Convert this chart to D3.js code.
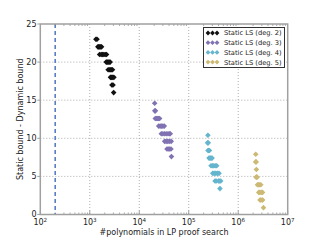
<!DOCTYPE html>
<html><head><meta charset="utf-8">
<script src="https://cdn.jsdelivr.net/npm/d3@7"></script>
<style>body{margin:0;background:#fff}svg{display:block}text{font-family:"DejaVu Sans",sans-serif}</style>
</head><body><svg id="c" width="320" height="240"></svg>
<script>
// ---- data ----
const seriesNames = ["Static LS (deg. 2)", "Static LS (deg. 3)", "Static LS (deg. 4)", "Static LS (deg. 5)"];
const seriesColors = ["#111111", "#8172B2", "#64B5CD", "#CCB974"];
const deg2Y = [23, 22, 21, 20, 19, 18, 17, 16];
const deg2X = [[1330, 1400], [1460, 1510, 1580, 1650, 1730], [1580, 1700, 1800, 1920, 2050, 2180], [2150, 2250, 2350, 2460, 2580],
  [2350, 2480, 2620, 2750, 2880], [2620, 2750, 2900, 3070], [2800, 2950], [3040]];
const deg3Y = [14.6, 13.6, 12.6, 11.6, 10.6, 9.6, 8.6, 7.6];
const deg3X = [[20500], [20600, 21200], [21100, 22200, 23400, 24600, 25800], [24700, 26400, 28200, 30000, 32000],
  [27900, 30000, 32400, 35000, 38000, 40500, 42300], [32600, 35000, 37600, 40500, 44200], [36300, 38500, 41000, 43700], [44700]];
const deg4Y = [10.4, 9.4, 8.4, 7.4, 6.4, 5.4, 4.4, 3.4];
const deg4X = [[244000], [240000, 248000], [245000, 254000, 262000], [257000, 270000, 283000, 296000],
  [282000, 300000, 320000, 343000, 367000], [306000, 328000, 352000, 380000, 409000], [340000, 358000, 400000, 420000, 443000], [427000]];
const deg5Y = [7.9, 6.9, 5.9, 4.9, 3.9, 2.9, 1.9, 0.9];
const deg5X = [[2260000], [2260000, 2300000], [2330000], [2300000, 2350000, 2400000],
  [2450000, 2580000, 2720000, 2860000], [2600000, 2750000, 2920000, 3100000], [2750000, 2850000, 3050000, 3100000], [3240000]];
const refLineX = 200;
const xTickExps = [2, 3, 4, 5, 6, 7];
const yTicks = [0, 5, 10, 15, 20, 25];
const xLabel = "#polynomials in LP proof search";
const yLabel = "Static bound - Dynamic bound";

// ---- chart ----
const svg = d3.select("#c");
const L = 40.3, R = 287.7, T = 24, B = 214.5;
const x = d3.scaleLog().domain([1e2, 1e7]).range([L, R]);
const y = d3.scaleLinear().domain([0, 25]).range([B, T]);

// grid
const g = svg.append("g");
g.selectAll(".gx").data(xTickExps.slice(1, -1)).join("line")
  .attr("x1", d => x(Math.pow(10, d))).attr("x2", d => x(Math.pow(10, d)))
  .attr("y1", T).attr("y2", B).attr("stroke", "#999").attr("stroke-width", 0.8).attr("stroke-dasharray", "1,2");
g.selectAll(".gy").data(yTicks.slice(1, -1)).join("line")
  .attr("x1", L).attr("x2", R).attr("y1", d => y(d)).attr("y2", d => y(d))
  .attr("stroke", "#999").attr("stroke-width", 0.8).attr("stroke-dasharray", "1,2");

// minor ticks on x
const minors = [];
for (let e = 2; e < 7; e++) for (let k = 2; k < 10; k++) minors.push(k * Math.pow(10, e));
g.selectAll(".mt").data(minors).join("line")
  .attr("x1", d => x(d)).attr("x2", d => x(d)).attr("y1", B).attr("y2", B - 2)
  .attr("stroke", "#888").attr("stroke-width", 0.7);
g.selectAll(".mtt").data(minors).join("line")
  .attr("x1", d => x(d)).attr("x2", d => x(d)).attr("y1", T).attr("y2", T + 2)
  .attr("stroke", "#888").attr("stroke-width", 0.7);
// major ticks
g.selectAll(".Mt").data(xTickExps).join("line")
  .attr("x1", d => x(Math.pow(10, d))).attr("x2", d => x(Math.pow(10, d))).attr("y1", B).attr("y2", B - 4)
  .attr("stroke", "#888").attr("stroke-width", 0.8);
g.selectAll(".Myt").data(yTicks).join("line")
  .attr("x1", L).attr("x2", L - 3).attr("y1", d => y(d)).attr("y2", d => y(d))
  .attr("stroke", "#888").attr("stroke-width", 0.8);

// reference dashed line
svg.append("line").attr("x1", x(refLineX)).attr("x2", x(refLineX)).attr("y1", T).attr("y2", B)
  .attr("stroke", "#5a7fc0").attr("stroke-width", 1.6).attr("stroke-dasharray", "4,3");

// points
const diamond = (cx, cy, r) => `M${cx},${cy - r}L${cx + r},${cy}L${cx},${cy + r}L${cx - r},${cy}Z`;
const allY = [deg2Y, deg3Y, deg4Y, deg5Y];
const allX = [deg2X, deg3X, deg4X, deg5X];
allY.forEach((ys, si) => {
  const pts = [];
  ys.forEach((yv, i) => allX[si][i].forEach(xv => pts.push([xv, yv])));
  svg.append("g").selectAll("path").data(pts).join("path")
    .attr("d", d => diamond(x(d[0]), y(d[1]), 2.8))
    .attr("fill", seriesColors[si]);
});

// frame
svg.append("rect").attr("x", L).attr("y", T).attr("width", R - L).attr("height", B - T)
  .attr("fill", "none").attr("stroke", "#a0a0a0").attr("stroke-width", 1.5);

// tick labels
const xl = svg.append("g").selectAll("text").data(xTickExps).join("text")
  .attr("x", d => x(Math.pow(10, d))).attr("y", 225).attr("text-anchor", "middle")
  .attr("font-size", 8).attr("fill", "#222");
xl.append("tspan").text("10");
xl.append("tspan").attr("dy", -3.5).attr("font-size", 5.6).text(d => d);
svg.append("g").selectAll("text").data(yTicks).join("text")
  .attr("x", 36.5).attr("y", d => y(d) + 2.9).attr("text-anchor", "end")
  .attr("font-size", 8).attr("fill", "#222").text(d => d);

// axis labels
svg.append("text").attr("x", (L + R) / 2).attr("y", 234.5).attr("text-anchor", "middle")
  .attr("font-size", 8).attr("fill", "#222").text(xLabel);
svg.append("text").attr("transform", `translate(22.5,${(T + B) / 2}) rotate(-90)`)
  .attr("text-anchor", "middle").attr("font-size", 8).attr("fill", "#222").text(yLabel);

// legend
const lg = svg.append("g");
lg.append("rect").attr("x", 203.5).attr("y", 27.5).attr("width", 81).attr("height", 40)
  .attr("fill", "#fff").attr("stroke", "#333").attr("stroke-width", 1);
seriesNames.forEach((name, i) => {
  const cy = 33 + i * 9.7;
  [208, 212.5, 217].forEach(cx => lg.append("path").attr("d", diamond(cx, cy, 2.4)).attr("fill", seriesColors[i]));
  lg.append("text").attr("x", 224).attr("y", cy + 2.4).attr("font-size", 6.7).attr("fill", "#222").text(name);
});
</script></body></html>
